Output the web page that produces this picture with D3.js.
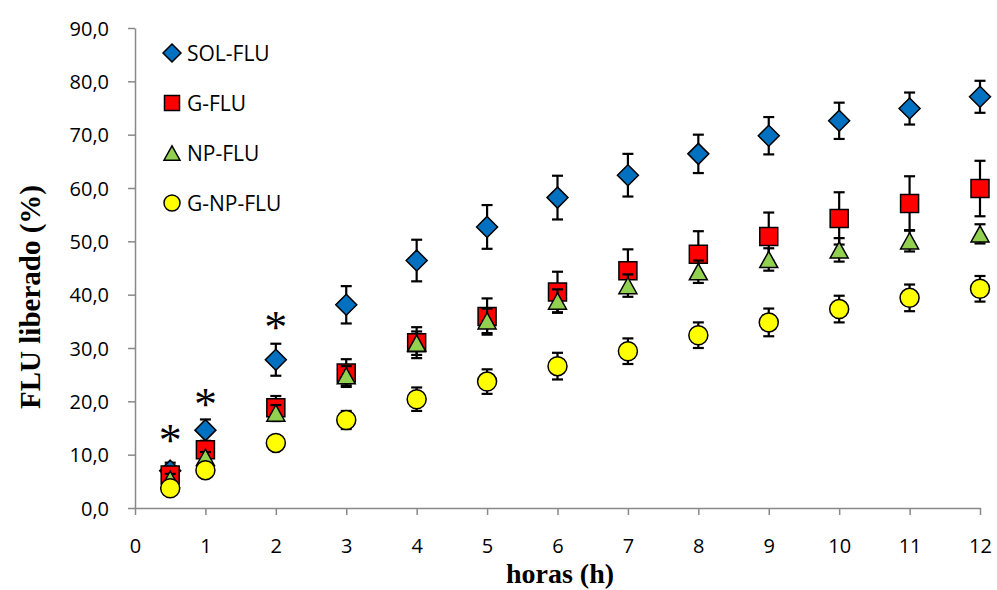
<!DOCTYPE html>
<html>
<head>
<meta charset="utf-8">
<script src="https://cdn.jsdelivr.net/npm/d3@7"></script>
<style>
  html, body { margin: 0; padding: 0; background: #fff; }
  svg { display: block; }
</style>
</head>
<body>
<svg id="chart" width="997" height="590"></svg>
<script>
// Release time points (hours)
const hours = [0.5, 1, 2, 3, 4, 5, 6, 7, 8, 9, 10, 11, 12];

// Mean cumulative release (%) per formulation
const solFlu   = [7.0, 14.6, 27.8, 38.1, 46.4, 52.7, 58.2, 62.4, 66.4, 69.8, 72.6, 74.9, 77.1];
const gFlu     = [6.2, 10.9, 18.8, 25.3, 31.0, 35.9, 40.5, 44.5, 47.6, 50.9, 54.3, 57.1, 59.9];
const npFlu    = [5.4, 9.5, 17.8, 24.8, 30.9, 35.1, 38.8, 41.7, 44.3, 46.6, 48.4, 50.1, 51.4];
const gNpFlu   = [3.7, 7.1, 12.2, 16.5, 20.4, 23.7, 26.6, 29.4, 32.4, 34.8, 37.3, 39.4, 41.1];

// Standard deviations
const solFluSd = [1.5, 2.0, 3.0, 3.5, 3.9, 4.1, 4.1, 4.0, 3.6, 3.5, 3.4, 3.0, 3.0];
const gFluSd   = [1.5, 1.2, 2.2, 2.6, 2.9, 3.4, 3.8, 4.0, 4.3, 4.5, 4.9, 5.1, 5.2];
const npFluSd  = [1.0, 1.0, 1.5, 1.8, 2.2, 2.3, 2.2, 2.1, 2.1, 2.1, 2.2, 2.0, 1.8];
const gNpFluSd = [0.8, 1.0, 1.0, 1.7, 2.2, 2.3, 2.5, 2.4, 2.4, 2.6, 2.5, 2.5, 2.4];

// Significance marks (hour, height in % units)
const starHours  = [0.5, 1, 2];
const starLevels = [13.9, 20.6, 35.0];

// Axis ticks
const xTicks = [0, 1, 2, 3, 4, 5, 6, 7, 8, 9, 10, 11, 12];
const yTicks = [0, 10, 20, 30, 40, 50, 60, 70, 80, 90];

const seriesNames = ["SOL-FLU", "G-FLU", "NP-FLU", "G-NP-FLU"];
const seriesMeans = [solFlu, gFlu, npFlu, gNpFlu];
const seriesSds   = [solFluSd, gFluSd, npFluSd, gNpFluSd];
const seriesShapes = ["diamond", "square", "triangle", "circle"];
const seriesFills  = ["#0070C0", "#FF0000", "#92D050", "#FFFF00"];

const svg = d3.select("#chart");

const x = d3.scaleLinear().domain([0, 12]).range([135, 980]);
const y = d3.scaleLinear().domain([0, 90]).range([508, 28]);

const comma = d3.formatLocale({ decimal: ",", thousands: ".", grouping: [3], currency: ["", ""] });
const fmtY = comma.format(".1f");

const axisColor = "#898989";
const tickFont = "'Open Sans', 'DejaVu Sans', sans-serif";

// Y axis
const yAxis = svg.append("g")
  .attr("transform", `translate(${x(0)},0)`)
  .call(d3.axisLeft(y).tickValues(yTicks).tickFormat(fmtY).tickSize(7).tickSizeOuter(0).tickPadding(19));
yAxis.select(".domain").attr("stroke", axisColor).attr("stroke-width", 1.5);
yAxis.selectAll(".tick line").attr("stroke", axisColor).attr("stroke-width", 1.5);
yAxis.selectAll(".tick text")
  .attr("font-family", tickFont).attr("font-size", 20).attr("fill", "#000")
  .attr("dy", "0.36em");

// X axis
const xAxis = svg.append("g")
  .attr("transform", `translate(0,${y(0)})`)
  .call(d3.axisBottom(x).tickValues(xTicks).tickFormat(d3.format("d")).tickSize(7).tickSizeOuter(0).tickPadding(38));
xAxis.select(".domain").attr("stroke", axisColor).attr("stroke-width", 1.5);
xAxis.selectAll(".tick text")
  .attr("font-family", tickFont).attr("font-size", 20).attr("fill", "#000")
  .attr("dy", "0");
xAxis.selectAll(".tick line").attr("stroke", axisColor).attr("stroke-width", 1.5);

// Axis titles
svg.append("text")
  .attr("x", 560).attr("y", 583)
  .attr("text-anchor", "middle")
  .attr("font-family", "'Liberation Serif', 'Times New Roman', serif")
  .attr("font-weight", "bold").attr("font-size", 28)
  .text("horas (h)");

svg.append("text")
  .attr("transform", "translate(40,297) rotate(-90)")
  .attr("text-anchor", "middle")
  .attr("font-family", "'Liberation Serif', 'Times New Roman', serif")
  .attr("font-weight", "bold").attr("font-size", 29)
  .text("FLU liberado (%)");

// Marker path builders, centred on (0,0)
function markerPath(shape, s) {
  const h = s / 2;
  if (shape === "diamond") return `M0,${-h}L${h},0L0,${h}L${-h},0Z`;
  if (shape === "square") return `M${-h},${-h}H${h}V${h}H${-h}Z`;
  if (shape === "triangle") {
    const th = s * 0.9;
    return `M0,${-th / 2}L${h},${th / 2}L${-h},${th / 2}Z`;
  }
  const p = d3.path();
  p.arc(0, 0, h, 0, 2 * Math.PI);
  p.closePath();
  return p.toString();
}
const plotSizes = { diamond: 21, square: 18, triangle: 18, circle: 19 };

// Series: error bars then markers
seriesNames.forEach((name, i) => {
  const pts = hours.map((h, j) => ({ h, v: seriesMeans[i][j], sd: seriesSds[i][j] }));
  const g = svg.append("g").attr("class", "series");

  const eb = g.selectAll("g.err").data(pts).enter().append("g").attr("class", "err")
    .attr("stroke", "#000").attr("stroke-width", 2.2);
  eb.append("line")
    .attr("x1", d => x(d.h)).attr("x2", d => x(d.h))
    .attr("y1", d => y(d.v - d.sd)).attr("y2", d => y(d.v + d.sd));
  eb.append("line")
    .attr("x1", d => x(d.h) - 5.5).attr("x2", d => x(d.h) + 5.5)
    .attr("y1", d => y(d.v + d.sd)).attr("y2", d => y(d.v + d.sd));
  eb.append("line")
    .attr("x1", d => x(d.h) - 5.5).attr("x2", d => x(d.h) + 5.5)
    .attr("y1", d => y(d.v - d.sd)).attr("y2", d => y(d.v - d.sd));

  g.selectAll("path.mk").data(pts).enter().append("path").attr("class", "mk")
    .attr("d", markerPath(seriesShapes[i], plotSizes[seriesShapes[i]]))
    .attr("transform", d => `translate(${x(d.h)},${y(d.v)})`)
    .attr("fill", seriesFills[i])
    .attr("stroke", "#000").attr("stroke-width", 1.5);
});

// Significance asterisks
svg.selectAll("text.star").data(starHours.map((h, k) => ({ h, v: starLevels[k] })))
  .enter().append("text").attr("class", "star")
  .attr("x", d => x(d.h)).attr("y", d => y(d.v) + 22)
  .attr("text-anchor", "middle")
  .attr("font-family", "'Liberation Serif', 'Times New Roman', serif")
  .attr("font-size", 46).attr("fill", "#000")
  .text("*");

// Legend
const legendRows = [53, 103, 153, 203];
const legendSizes = { diamond: 18, square: 15, triangle: 16, circle: 16 };
const legend = svg.append("g");
seriesNames.forEach((name, i) => {
  const row = legend.append("g").attr("transform", `translate(172,${legendRows[i]})`);
  row.append("path")
    .attr("d", markerPath(seriesShapes[i], legendSizes[seriesShapes[i]]))
    .attr("fill", seriesFills[i]).attr("stroke", "#000").attr("stroke-width", 1.5);
  row.append("text")
    .attr("x", 15).attr("y", 7.5)
    .attr("font-family", tickFont).attr("font-size", 21).attr("fill", "#000")
    .text(name);
});
</script>
</body>
</html>
